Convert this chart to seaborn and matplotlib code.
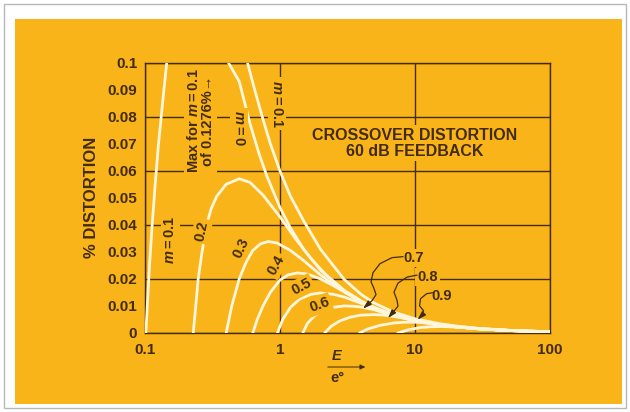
import numpy as np
import pandas as pd
import matplotlib
matplotlib.use("Agg")
import matplotlib.pyplot as plt
import seaborn as sns
from matplotlib.patches import Rectangle, FancyArrowPatch
from matplotlib.path import Path
from matplotlib.transforms import ScaledTranslation

# ---------------- data ----------------
m0_x = [0.415, 0.5, 0.6, 0.7, 0.8, 1.0, 1.2, 1.5, 2, 3, 4, 5, 7, 10, 15, 20, 30, 50, 70, 100]
m0_y = [0.1, 0.093, 0.0775, 0.0664, 0.0581, 0.0465, 0.0388, 0.031, 0.0233, 0.0155, 0.0116,
        0.0093, 0.0066, 0.00465, 0.0031, 0.0023, 0.00155, 0.00093, 0.00066, 0.00047]

m01a_x = [0.1015, 0.104, 0.108, 0.113, 0.119, 0.126, 0.135, 0.145]
m01a_y = [0.0, 0.01, 0.025, 0.04, 0.055, 0.07, 0.085, 0.1]

m01b_x = [0.575, 0.65, 0.75, 0.85, 1.0, 1.2, 1.5, 2, 3, 4, 5, 7, 10, 15, 20, 30, 50, 70, 100]
m01b_y = [0.1, 0.09, 0.079, 0.07, 0.06, 0.0505, 0.0415, 0.031, 0.0198, 0.0143, 0.0111,
          0.0077, 0.0053, 0.0035, 0.0026, 0.0017, 0.001, 0.0007, 0.0005]

m02_x = [0.228, 0.238, 0.248, 0.265, 0.286, 0.31, 0.34, 0.4, 0.5, 0.6, 0.75, 1.0, 1.3, 1.7,
         2.2, 3, 4, 5, 7, 10, 15, 20, 30, 50, 70, 100]
m02_y = [0.0, 0.01, 0.02, 0.03, 0.04, 0.046, 0.0505, 0.055, 0.057, 0.0557, 0.051, 0.043, 0.035,
         0.0275, 0.0215, 0.0158, 0.0119, 0.0095, 0.0067, 0.0047, 0.0031, 0.00235, 0.00156,
         0.00094, 0.00067, 0.00047]

m03_x = [0.40, 0.44, 0.50, 0.56, 0.63, 0.72, 0.82, 0.95, 1.2, 1.5, 2, 2.5, 3, 4, 5, 7, 10, 15,
         20, 30, 50, 70, 100]
m03_y = [0.0, 0.01, 0.02, 0.026, 0.0305, 0.033, 0.0338, 0.0333, 0.0305, 0.0268, 0.0215, 0.018,
         0.0153, 0.0116, 0.0093, 0.0066, 0.0046, 0.0031, 0.0023, 0.00155, 0.00093, 0.00066, 0.00046]

m04_x = [0.63, 0.68, 0.75, 0.85, 1.0, 1.15, 1.35, 1.6, 2, 2.5, 3, 4, 5, 7, 10, 15, 20, 30, 50, 70, 100]
m04_y = [0.0, 0.005, 0.010, 0.015, 0.0195, 0.0215, 0.0222, 0.0218, 0.020, 0.0175, 0.0152, 0.0116,
         0.0092, 0.0066, 0.0046, 0.0031, 0.0023, 0.00153, 0.00092, 0.00066, 0.00046]

m05_x = [0.96, 1.05, 1.2, 1.4, 1.7, 2.0, 2.5, 3, 4, 5, 7, 10, 15, 20, 30, 50, 70, 100]
m05_y = [0.0, 0.005, 0.0095, 0.0125, 0.0143, 0.0148, 0.0143, 0.0133, 0.011, 0.009, 0.0065,
         0.0046, 0.0031, 0.0023, 0.00153, 0.00092, 0.00066, 0.00046]

m06_x = [1.48, 1.6, 1.8, 2.1, 2.5, 3.0, 3.5, 4, 5, 7, 10, 15, 20, 30, 50, 70, 100]
m06_y = [0.0, 0.0035, 0.0063, 0.0083, 0.0095, 0.010, 0.0099, 0.0096, 0.0086, 0.0064, 0.0046,
         0.0031, 0.0023, 0.00153, 0.00092, 0.00066, 0.00046]

m07_x = [2.15, 2.4, 2.8, 3.3, 4, 5, 6, 7, 8.5, 10, 15, 20, 30, 50, 70, 100]
m07_y = [0.0, 0.0025, 0.0045, 0.0058, 0.0066, 0.0068, 0.0066, 0.0061, 0.0054, 0.0045, 0.0031,
         0.0023, 0.00153, 0.00092, 0.00066, 0.00046]

m08_x = [3.9, 4.5, 5.5, 7, 8.5, 10, 12, 15, 20, 30, 50, 70, 100]
m08_y = [0.0, 0.0015, 0.0028, 0.0037, 0.004, 0.004, 0.0037, 0.0032, 0.0025, 0.00165, 0.00098,
         0.0007, 0.00048]

m09_x = [7.5, 9, 11, 13, 16, 20, 25, 30, 40, 50, 70, 100]
m09_y = [0.0, 0.0012, 0.002, 0.0023, 0.0024, 0.0022, 0.0019, 0.0016, 0.0012, 0.001, 0.0007, 0.00048]

x_ticks = [0.1, 1, 10, 100]
x_tick_labels = ["0.1", "1", "10", "100"]
y_ticks = [0, 0.01, 0.02, 0.03, 0.04, 0.05, 0.06, 0.07, 0.08, 0.09, 0.1]
y_tick_labels = ["0", "0.01", "0.02", "0.03", "0.04", "0.05", "0.06", "0.07", "0.08", "0.09", "0.1"]

curves = {
    "m=0": (m0_x, m0_y), "m=0.1a": (m01a_x, m01a_y), "m=0.1b": (m01b_x, m01b_y),
    "0.2": (m02_x, m02_y), "0.3": (m03_x, m03_y), "0.4": (m04_x, m04_y),
    "0.5": (m05_x, m05_y), "0.6": (m06_x, m06_y), "0.7": (m07_x, m07_y),
    "0.8": (m08_x, m08_y), "0.9": (m09_x, m09_y),
}
df = pd.concat([pd.DataFrame({"x": xs, "y": ys, "curve": k}) for k, (xs, ys) in curves.items()],
               ignore_index=True)

# ---------------- style ----------------
ORANGE = "#F9B419"
INK = "#432c0c"
LINE = "#FFF6DC"

sns.set_theme(style="white")
plt.rcParams["font.family"] = ["Liberation Sans", "DejaVu Sans"]
plt.rcParams["font.weight"] = "bold"
plt.rcParams["mathtext.fontset"] = "custom"
plt.rcParams["mathtext.rm"] = "Liberation Sans:bold"
plt.rcParams["mathtext.it"] = "Liberation Sans:italic:bold"
plt.rcParams["mathtext.bf"] = "Liberation Sans:bold"

W, H = 630, 412
fig = plt.figure(figsize=(W / 100, H / 100), dpi=100)
fig.patch.set_facecolor("white")
fig.add_artist(Rectangle((4 / W, 4 / H), 622 / W, 404 / H, transform=fig.transFigure,
                         fill=False, ec="#b8b8b8", lw=1.0, zorder=-20))
fig.add_artist(Rectangle((15 / W, 8 / H), 607 / W, 385 / H, transform=fig.transFigure,
                         fc=ORANGE, ec="none", zorder=-10))

ax = fig.add_axes([145 / W, 1 - 333 / H, (549.5 - 145) / W, (333 - 62.5) / H])
ax.set_facecolor("none")
ax.set_xscale("log")

sns.lineplot(data=df, x="x", y="y", hue="curve", units="curve", estimator=None, sort=False,
             palette={k: LINE for k in curves}, legend=False, lw=2.0, ax=ax, zorder=3)

ax.set_xlim(0.1, 100)
ax.set_ylim(0, 0.1)

# ticks
ax.set_xticks(x_ticks)
ax.set_xticklabels(x_tick_labels)
ax.set_xticks([v * d for d in (0.1, 1, 10) for v in range(2, 10)], minor=True)
ax.set_xticklabels([], minor=True)
ax.set_yticks(y_ticks[::2])
ax.set_yticklabels(y_tick_labels[::2])
ax.set_yticks(y_ticks[1::2], minor=True)
ax.set_yticklabels(y_tick_labels[1::2], minor=True)

ax.tick_params(axis="both", which="both", colors=INK, labelcolor=INK, labelsize=11, width=1)
ax.tick_params(axis="y", which="both", direction="inout", length=5, pad=3)
ax.tick_params(axis="x", which="major", direction="inout", length=0, pad=7)
ax.tick_params(axis="x", which="minor", direction="out", length=3)
for lab in ax.get_xticklabels() + ax.get_yticklabels() + ax.get_yticklabels(minor=True):
    lab.set_fontweight("bold")

ax.grid(True, which="major", color=INK, lw=1.0)
for s in ax.spines.values():
    s.set_color(INK)
    s.set_linewidth(1.0)

ax.set_xlabel("")
ax.set_ylabel("% DISTORTION", color=INK, fontsize=12, fontweight="bold")
ax.yaxis.set_label_coords((99 - 145) / 404.5, 0.5)

# ---------------- annotations ----------------
bb = dict(boxstyle="square,pad=0.15", fc=ORANGE, ec="none")
tk = dict(color=INK, fontweight="bold", ha="center", va="center", zorder=5, bbox=bb)

ax.text(0.259, 0.0784, "Max for $m = 0.1$\nof 0.1276%\u2192", rotation=90, fontsize=10.5,
        linespacing=1.0, **tk)
ax.text(0.497, 0.0758, "$m = 0$", rotation=-90, fontsize=10.5, **tk)
ax.text(0.957, 0.0847, "$m = 0.1$", rotation=-90, fontsize=10.5, **tk)
ax.text(0.1545, 0.0344, "$m = 0.1$", rotation=90, fontsize=10.5, **tk)
ax.text(0.263, 0.0377, "0.2", rotation=78, fontsize=10.5, **tk)
ax.text(0.513, 0.0314, "0.3", rotation=65, fontsize=10.5, **tk)
ax.text(0.933, 0.0251, "0.4", rotation=60, fontsize=10.5, **tk)
ax.text(1.45, 0.0171, "0.5", rotation=28, fontsize=10.5, **tk)
ax.text(1.96, 0.0104, "0.6", rotation=20, fontsize=10.5, **tk)

ax.text(10, 0.0702, "CROSSOVER DISTORTION\n60 dB FEEDBACK", fontsize=11.5, linespacing=1.1, **tk)

# call-outs for 0.7 / 0.8 / 0.9: label position, pointer tip, wiggly leader (pixel offsets from tip)
callouts = [
    ("0.7", 9.85, 0.0277, 4.14, 0.0090,
     [(40, 52), (29, 51), (17, 45), (10, 36), (8, 27), (11, 20), (13, 14), (9, 8), (0, 0)]),
    ("0.8", 12.4, 0.0208, 6.34, 0.0055,
     [(29, 43), (19, 41), (10, 35), (6, 26), (9, 18), (10, 12), (6, 7), (0, 0)]),
    ("0.9", 15.8, 0.0137, 10.5, 0.0049,
     [(15, 27), (9, 26), (3, 21), (2, 14), (6, 9), (5, 5), (0, 0)]),
]
for lab, tx, ty, px, py, wig in callouts:
    ax.text(tx, ty, lab, fontsize=10.5, zorder=6, **{k: v for k, v in tk.items() if k != "zorder"})
    tr = fig.dpi_scale_trans + ScaledTranslation(px, py, ax.transData)
    verts = [(u / 100, v / 100) for u, v in wig]
    path = Path(verts, [Path.MOVETO] + [Path.LINETO] * (len(verts) - 1))
    arr = FancyArrowPatch(path=path, transform=tr, arrowstyle="-|>,head_length=5,head_width=1.6",
                          color=INK, lw=0.9, zorder=6)
    ax.add_artist(arr)

# x label: E / e° with arrow
fig.text(337 / W, 1 - 356 / H, "E", color=INK, fontsize=10.5, fontweight="bold",
         fontstyle="italic", ha="center", va="center")
fig.text(337 / W, 1 - 378 / H, "e\u00b0", color=INK, fontsize=10.5, fontweight="bold",
         ha="center", va="center")
fig.add_artist(FancyArrowPatch((325 / W, 1 - 367 / H), (368 / W, 1 - 367 / H),
                               transform=fig.transFigure, arrowstyle="-|>,head_length=3,head_width=1.5",
                               color=INK, lw=0.7))

fig.savefig("out.png", dpi=100)
